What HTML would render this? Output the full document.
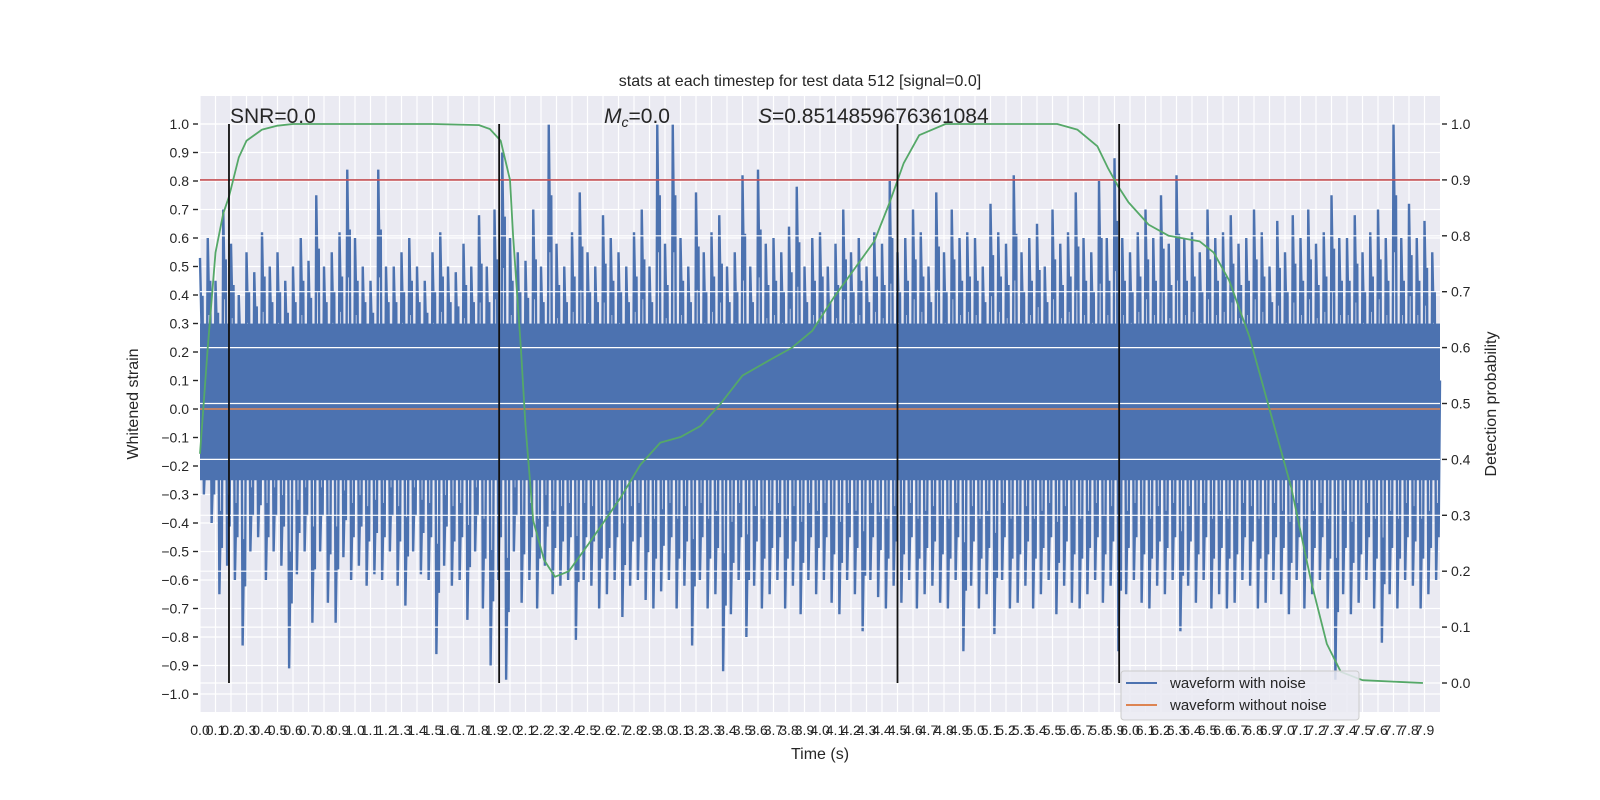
<!DOCTYPE html>
<html><head><meta charset="utf-8">
<style>
html,body{margin:0;padding:0;background:#fff;}
svg{display:block;font-family:"Liberation Sans","DejaVu Sans",sans-serif;}
</style></head>
<body>
<svg id="chart" width="1600" height="800" xmlns="http://www.w3.org/2000/svg">
<rect x="0" y="0" width="1600" height="800" fill="#ffffff"/>
<rect x="200" y="96" width="1240" height="616" fill="#EAEAF2"/>
<g id="gridL"></g>
<g id="blue"></g>
<g id="gridR"></g>
<g id="top"></g>
<g id="ticks"></g>
<text x="800" y="86" text-anchor="middle" font-size="16" fill="#262626">stats at each timestep for test data 512 [signal=0.0]</text>
<text x="230" y="123" font-size="21" fill="#262626">SNR=0.0</text>
<text x="604" y="123" font-size="21" fill="#262626"><tspan font-style="italic">M</tspan><tspan font-size="14" dy="4" font-style="italic">c</tspan><tspan dy="-4">=0.0</tspan></text>
<text x="758" y="123" font-size="21" fill="#262626"><tspan font-style="italic">S</tspan>=0.8514859676361084</text>
<text x="820" y="759" text-anchor="middle" font-size="16" fill="#262626">Time (s)</text>
<text transform="translate(138,404) rotate(-90)" text-anchor="middle" font-size="16" fill="#262626">Whitened strain</text>
<text transform="translate(1496,404) rotate(-90)" text-anchor="middle" font-size="16" fill="#262626">Detection probability</text>
<g>
<rect x="1121" y="671" width="238" height="49" rx="3" fill="#EAEAF2" fill-opacity="0.85" stroke="#cccccc"/>
<line x1="1126" y1="683" x2="1157" y2="683" stroke="#4C72B0" stroke-width="2"/>
<text x="1170" y="688" font-size="15" fill="#262626">waveform with noise</text>
<line x1="1126" y1="705" x2="1157" y2="705" stroke="#DD8452" stroke-width="2"/>
<text x="1170" y="710" font-size="15" fill="#262626">waveform without noise</text>
</g>
</svg>
<script>
const xTicks = Array.from({length:80},(_,i)=>(i/10).toFixed(1));
const yTicksLeft = [-1.0,-0.9,-0.8,-0.7,-0.6,-0.5,-0.4,-0.3,-0.2,-0.1,0.0,0.1,0.2,0.3,0.4,0.5,0.6,0.7,0.8,0.9,1.0];
const yTicksRight = [0.0,0.1,0.2,0.3,0.4,0.5,0.6,0.7,0.8,0.9,1.0];
const noiseStep = 0.05;
const noiseHigh = [
.53,.6,.45,.7,.58,.4,.55,.48,.62,.5,.55,.45,.5,.6,.52,.75,.5,.55,.62,.84,
.6,.5,.45,.84,.5,.5,.55,.6,.5,.45,.55,.62,.5,.48,.58,.5,.68,.5,.7,.9,
.6,.55,.52,.7,.5,1.0,.58,.5,.62,.76,.55,.5,.68,.6,.55,.5,.62,.7,.5,1.0,
.58,1.0,.6,.5,.76,.55,.62,.68,.5,.55,.82,.5,.84,.58,.6,.55,.64,.78,.5,.6,
.62,.5,.58,.7,.55,.6,.5,.62,.58,.8,.55,.6,.7,.62,.5,.76,.55,.7,.6,.62,
.6,.5,.72,.62,.58,.82,.55,.6,.65,.5,.7,.58,.62,.76,.6,.55,.8,.6,.88,.6,
.55,.62,.7,.6,.75,.58,.82,.6,.62,.55,.7,.6,.62,.68,.58,.6,.7,.62,.5,.66,
.55,.68,.6,.7,.58,.62,.75,.6,.6,.68,.55,.62,.7,.6,1.0,.6,.72,.6,.66,.55];
const noiseLow = [
-.3,-.4,-.65,-.55,-.6,-.83,-.5,-.45,-.6,-.5,-.55,-.91,-.58,-.5,-.75,-.5,-.68,-.75,-.52,-.6,
-.55,-.62,-.58,-.6,-.5,-.62,-.69,-.5,-.58,-.6,-.86,-.55,-.62,-.6,-.74,-.5,-.7,-.9,-.6,-.95,
-.5,-.68,-.6,-.7,-.55,-.65,-.62,-.6,-.81,-.6,-.62,-.7,-.65,-.6,-.73,-.62,-.6,-.67,-.7,-.64,
-.6,-.7,-.62,-.83,-.6,-.7,-.65,-.92,-.72,-.6,-.8,-.62,-.7,-.65,-.6,-.7,-.62,-.72,-.6,-.65,
-.6,-.68,-.72,-.6,-.65,-.78,-.6,-.66,-.7,-.62,-.68,-.6,-.7,-.65,-.62,-.68,-.7,-.6,-.85,-.62,
-.7,-.65,-.79,-.6,-.7,-.68,-.62,-.7,-.65,-.6,-.72,-.62,-.68,-.7,-.65,-.6,-.68,-.62,-.85,-.65,
-.6,-.68,-.7,-.62,-.65,-.6,-.78,-.62,-.68,-.6,-.7,-.65,-.7,-.68,-.6,-.62,-.7,-.68,-.6,-.65,
-.72,-.6,-.7,-.65,-.6,-.7,-.95,-.65,-.72,-.68,-.6,-.7,-.82,-.65,-.7,-.6,-.62,-.7,-.65,-.6];
const probTime = [0,0.05,0.1,0.15,0.187,0.25,0.3,0.4,0.5,0.6,1.0,1.5,1.8,1.87,1.94,2.0,2.02,2.07,2.10,2.15,2.22,2.29,2.38,2.51,2.71,2.84,2.97,3.10,3.23,3.36,3.50,3.69,3.82,3.95,4.09,4.22,4.35,4.45,4.54,4.64,4.81,5.2,5.53,5.66,5.79,5.86,5.92,5.99,6.12,6.25,6.45,6.54,6.64,6.77,6.90,7.04,7.17,7.27,7.36,7.50,7.89];
const probValue = [0.41,0.6,0.77,0.84,0.87,0.94,0.97,0.99,0.997,1.0,1.0,1.0,0.998,0.991,0.97,0.9,0.8,0.6,0.46,0.29,0.22,0.19,0.2,0.25,0.33,0.39,0.43,0.44,0.46,0.5,0.55,0.58,0.6,0.63,0.69,0.74,0.79,0.86,0.93,0.98,1.0,1.0,1.0,0.99,0.96,0.92,0.89,0.86,0.82,0.8,0.79,0.77,0.72,0.62,0.49,0.35,0.18,0.07,0.02,0.005,0.0];
const eventTimes = [0.187,1.93,4.5,5.93];
const threshold = 0.9;
const cleanWave = [0.0];

const NS='http://www.w3.org/2000/svg';
const X0=200,X1=1440,Y0=96,Y1=712;
const sx=t=>X0+(t/8)*(X1-X0);
const syL=v=>409-v*285;
const syR=v=>683-v*559;
function mk(tag,attrs,parent){const e=document.createElementNS(NS,tag);for(const k in attrs)e.setAttribute(k,attrs[k]);document.getElementById(parent).appendChild(e);return e;}

xTicks.forEach(t=>{const e=mk('line',{x1:sx(+t),x2:sx(+t),y1:Y0,y2:Y1,stroke:'#fff','stroke-width':1.2},'gridL');

});
yTicksLeft.forEach(v=>{const e=mk('line',{x1:X0,x2:X1,y1:syL(v),y2:syL(v),stroke:'#fff','stroke-width':1.2},'gridL');

});
yTicksRight.forEach(v=>{const e=mk('line',{x1:X0,x2:X1,y1:syR(v),y2:syR(v),stroke:'#fff','stroke-width':1.2},'gridR');

});

let pts=[];
noiseHigh.forEach((h,i)=>{const t=i*noiseStep;const l=noiseLow[i];
pts.push(sx(t)+','+syL(h));pts.push((sx(t)+1.5)+','+syL(h*0.55));pts.push((sx(t)+2.5)+','+syL(h*0.75));pts.push((sx(t+noiseStep/2))+','+syL(l));pts.push((sx(t+noiseStep/2)+1.5)+','+syL(l*0.55));pts.push((sx(t+noiseStep/2)+2.5)+','+syL(l*0.75));});
pts.push(sx(8)+','+syL(0.1));
const bl=mk('polyline',{points:pts.join(' '),fill:'none',stroke:'#4C72B0','stroke-width':2.4},'blue');


const core=mk('rect',{x:X0,y:syL(0.3),width:sx(8)-X0,height:syL(-0.25)-syL(0.3),fill:'#4C72B0'},'blue');



const og=mk('line',{x1:X0,x2:X1,y1:syL(cleanWave[0]),y2:syL(cleanWave[0]),stroke:'#DD8452','stroke-width':1.6},'top');


const rd=mk('line',{x1:X0,x2:X1,y1:syR(threshold),y2:syR(threshold),stroke:'#C44E52','stroke-width':1.6},'top');


const gp=probTime.map((t,i)=>sx(t)+','+syR(probValue[i])).join(' ');
const gr=mk('polyline',{points:gp,fill:'none',stroke:'#55A868','stroke-width':1.8,'stroke-linejoin':'round'},'top');


eventTimes.forEach(t=>{const e=mk('line',{x1:sx(t),x2:sx(t),y1:syR(1),y2:syR(0),stroke:'#111','stroke-width':1.8},'top');

});

xTicks.forEach(t=>{const e=mk('text',{x:sx(+t),y:735,'text-anchor':'middle','font-size':14,fill:'#262626'},'ticks');e.textContent=t;

});
yTicksLeft.forEach(v=>{const y=syL(v);
const tk=mk('line',{x1:193,x2:198,y1:y,y2:y,stroke:'#262626','stroke-width':1.4},'ticks');


const e=mk('text',{x:189,y:y+5,'text-anchor':'end','font-size':14,fill:'#262626'},'ticks');e.textContent=(v<0?'\u2212':'')+Math.abs(v).toFixed(1);

});
yTicksRight.forEach(v=>{const y=syR(v);
const tk=mk('line',{x1:1442,x2:1447,y1:y,y2:y,stroke:'#262626','stroke-width':1.4},'ticks');


const e=mk('text',{x:1451,y:y+5,'font-size':14,fill:'#262626'},'ticks');e.textContent=v.toFixed(1);

});
</script>
</body></html>
